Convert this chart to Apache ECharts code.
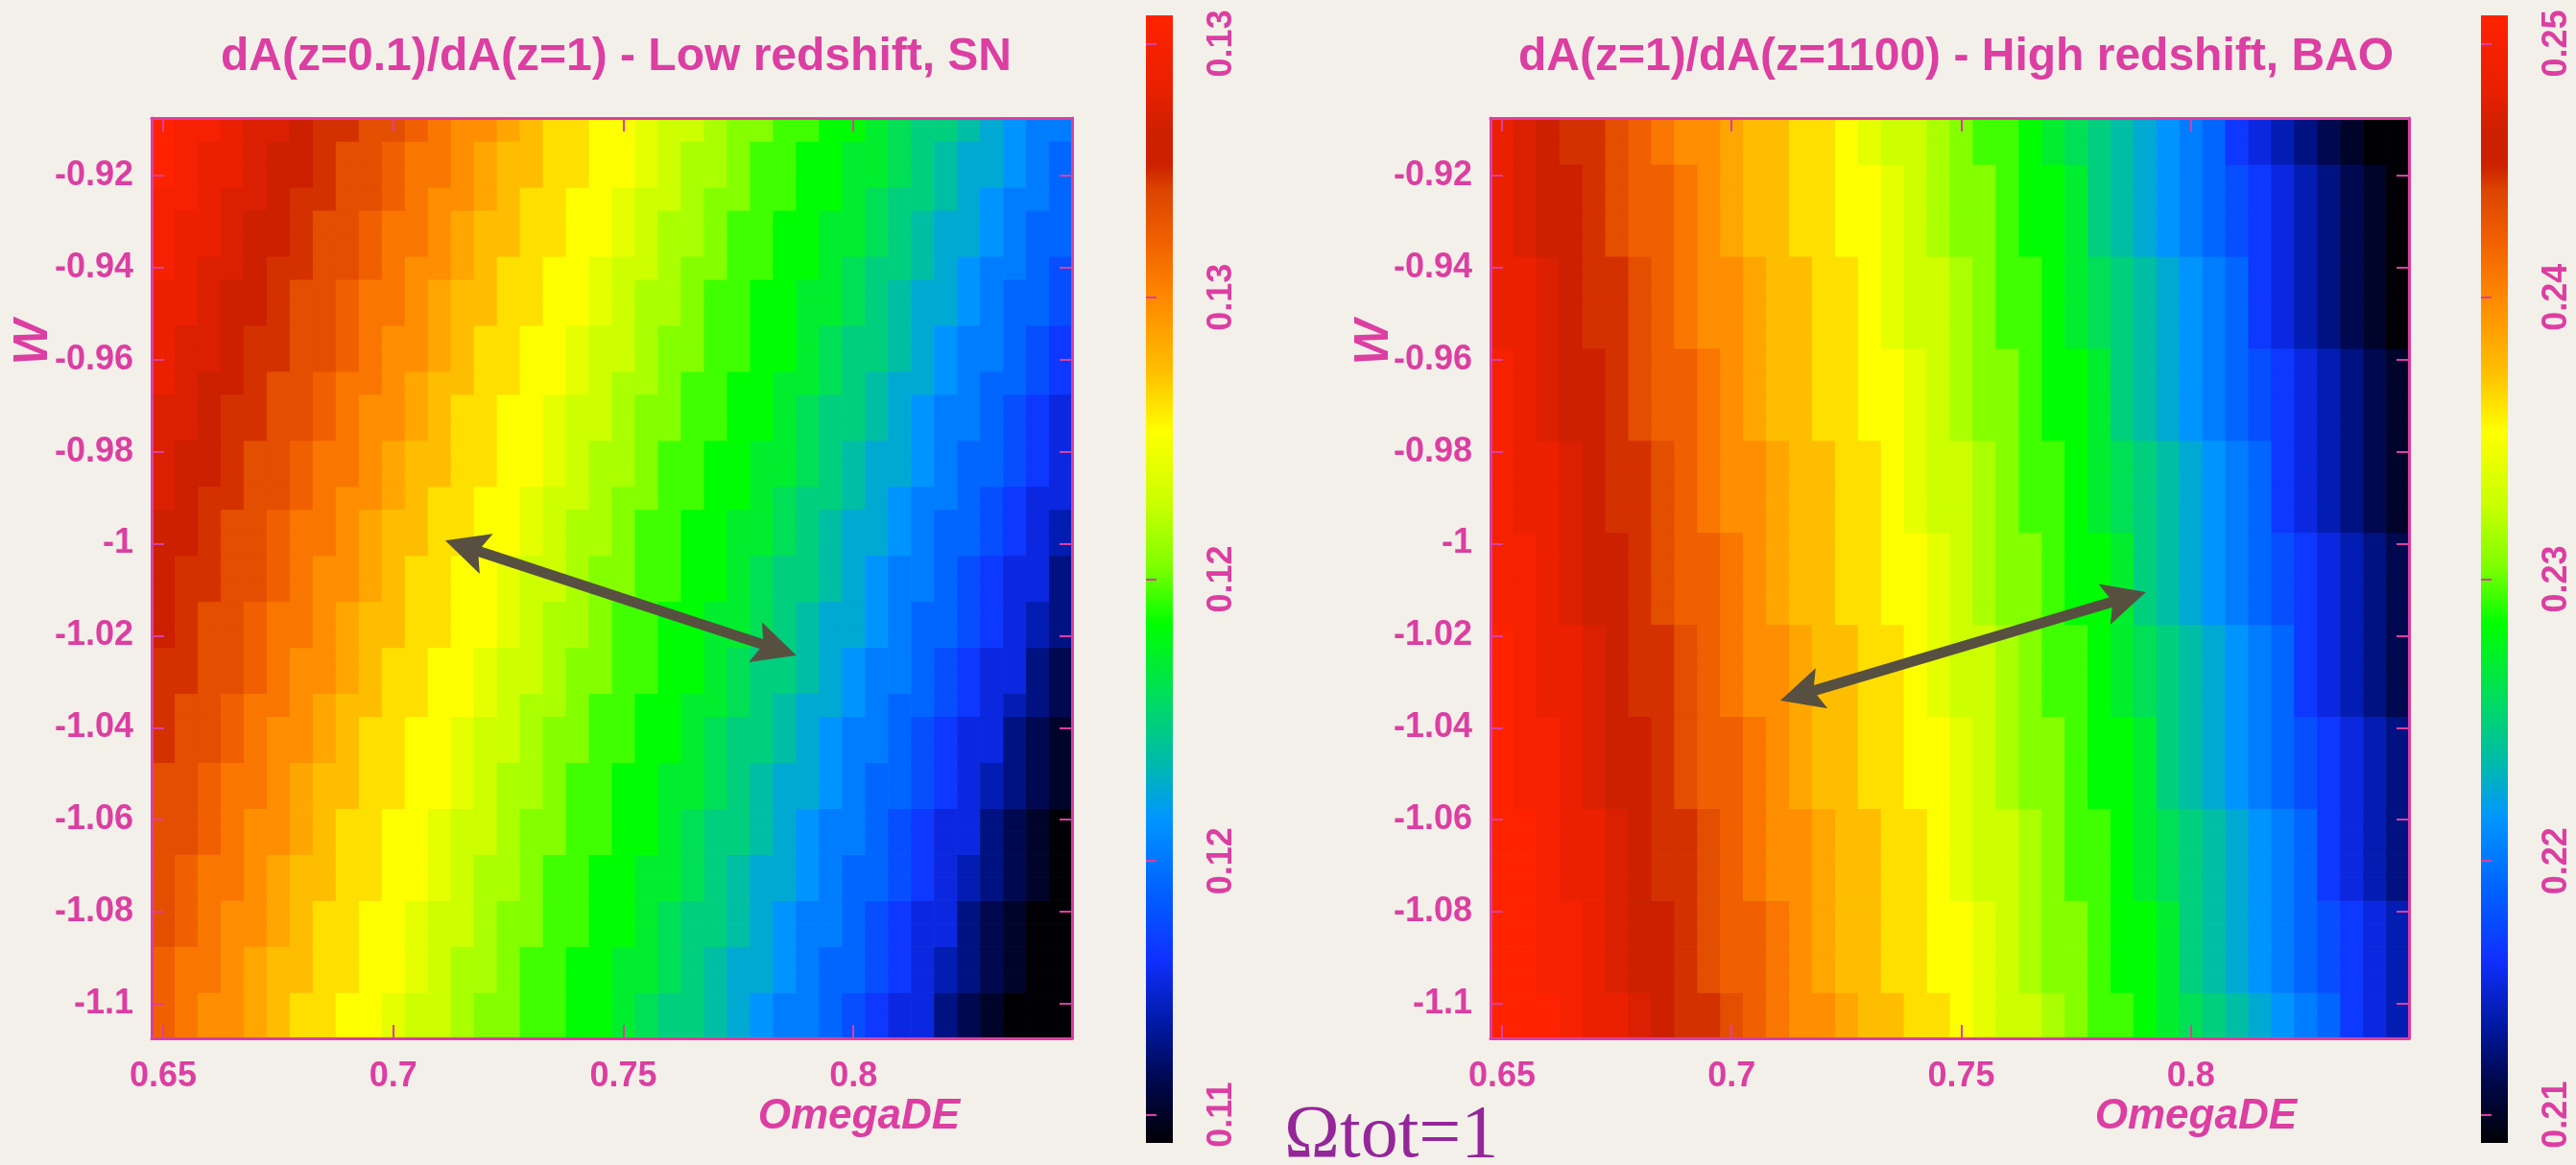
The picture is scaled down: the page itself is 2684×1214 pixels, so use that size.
<!DOCTYPE html>
<html>
<head>
<meta charset="utf-8">
<script src="https://cdn.jsdelivr.net/npm/echarts@6/dist/echarts.min.js"></script>
<style>
html,body{margin:0;padding:0;background:#f3f0e9;}
#c{width:2684px;height:1214px;}
</style>
</head>
<body>
<div id="c"></div>
<script>
// ---------------- data ----------------
const omegaDE = [0.650,0.655,0.660,0.665,0.670,0.675,0.680,0.685,0.690,0.695,
                 0.700,0.705,0.710,0.715,0.720,0.725,0.730,0.735,0.740,0.745,
                 0.750,0.755,0.760,0.765,0.770,0.775,0.780,0.785,0.790,0.795,
                 0.800,0.805,0.810,0.815,0.820,0.825,0.830,0.835,0.840,0.845];
const wValues = [-1.105,-1.100,-1.095,-1.090,-1.085,-1.080,-1.075,-1.070,-1.065,-1.060,
                 -1.055,-1.050,-1.045,-1.040,-1.035,-1.030,-1.025,-1.020,-1.015,-1.010,
                 -1.005,-1.000,-0.995,-0.990,-0.985,-0.980,-0.975,-0.970,-0.965,-0.960,
                 -0.955,-0.950,-0.945,-0.940,-0.935,-0.930,-0.925,-0.920,-0.915,-0.910];

const xTicks = [0.65, 0.7, 0.75, 0.8];
const xTickLabels = ['0.65', '0.7', '0.75', '0.8'];
const yTicks = [-1.1, -1.08, -1.06, -1.04, -1.02, -1, -0.98, -0.96, -0.94, -0.92];
const yTickLabels = ['-1.1', '-1.08', '-1.06', '-1.04', '-1.02', '-1', '-0.98', '-0.96', '-0.94', '-0.92'];

const snRange = [0.11, 0.13];
const baoRange = [0.21, 0.25];
const snBarTicks = [0.1105, 0.115, 0.12, 0.125, 0.1295];
const snBarLabels = ['0.11', '0.12', '0.12', '0.13', '0.13'];
const baoBarTicks = [0.211, 0.22, 0.23, 0.24, 0.249];
const baoBarLabels = ['0.21', '0.22', '0.23', '0.24', '0.25'];

// cell values, one string per w row (bottom row first), one character per OmegaDE column.
// character = quantised level 0..35 across the colour range of each panel.
const LEVELS = '0123456789abcdefghijklmnopqrstuvwxyz';
const snRows = [
 'srqqponnmmlkkjiihhggfeddcba9987655321000',
 'srqqponnmmlkkjiihhggfeddcba9987655321000',
 'srrqpoonnmmlkjjihhggffedcbba988765432100',
 'srrqpoonnmmlkjjihhggffedcbba988765432100',
 'tsrqqponnmmlkkjiihhggfeddcba998765532100',
 'tsrqqponnmmlkkjiihhggfeddcba998765532100',
 'tsrrqpoonnmmlkjjihhggffedcbba98876543210',
 'tsrrqpoonnmmlkjjihhggffedcbba98876543210',
 'ttsrqqponnmmlkkjiihhggfeddcba99876553210',
 'ttsrqqponnmmlkkjiihhggfeddcba99876553210',
 'ttsrrqpoonnmmlkjjihhggffedcbba9887654321',
 'ttsrrqpoonnmmlkjjihhggffedcbba9887654321',
 'uttsrqqponnmmlkkjiihhggfeddcba9987655321',
 'uttsrqqponnmmlkkjiihhggfeddcba9987655321',
 'uttsrrqpoonnmmlkjjihhggffedcbba988765432',
 'uuttsrqqponnmmlkkjiihhggfeddcba998765532',
 'uuttsrqqponnmmlkkjiihhggfeddcba998765532',
 'vuttsrrqpoonnmmlkjjihhggffedcbba98876543',
 'vuttsrrqpoonnmmlkjjihhggffedcbba98876543',
 'vuuttsrqqponnmmlkkjiihhggfeddcba99876553',
 'vuuttsrqqponnmmlkkjiihhggfeddcba99876553',
 'vvuttsrrqpoonnmmlkjjihhggffedcbba9887654',
 'vvuttsrrqpoonnmmlkjjihhggffedcbba9887654',
 'wvuuttsrqqponnmmlkkjiihhggfeddcba9987655',
 'wvvuttsrrqpoonnmmlkjjihhggffedcbba988765',
 'wvvuttsrrqpoonnmmlkjjihhggffedcbba988765',
 'wwvuuttsrqqponnmmlkkjiihhggfeddcba998765',
 'wwvuuttsrqqponnmmlkkjiihhggfeddcba998765',
 'xwvvuttsrrqpoonnmmlkjjihhggffedcbba98876',
 'xwwvuuttsrqqponnmmlkkjiihhggfeddcba99876',
 'xwwvuuttsrqqponnmmlkkjiihhggfeddcba99876',
 'xxwvvuttsrrqpoonnmmlkjjihhggffedcbba9887',
 'xxwvvuttsrrqpoonnmmlkjjihhggffedcbba9887',
 'yxwwvuuttsrqqponnmmlkkjiihhggfeddcba9987',
 'yxxwvvuttsrrqpoonnmmlkjjihhggffedcbba988',
 'yxxwvvuttsrrqpoonnmmlkjjihhggffedcbba988',
 'yyxwwvuuttsrqqponnmmlkkjiihhggfeddcba998',
 'zyxxwvvuttsrrqpoonnmmlkjjihhggffedcbba98',
 'zyxxwvvuttsrrqpoonnmmlkjjihhggffedcbba98',
 'zyyxwwvuuttsrqqponnmmlkkjiihhggfeddcba99'
];
const baoRows = [
 'zzzyxxwvuutsrqqpoonnmlkkjihhgfedcba98654',
 'zzzyxxwvuutsrqqpoonnmlkkjihhgfedcba98654',
 'zzyyxwvvutssrqpoonnmmlkjiihggfdcba987654',
 'zzyyxwvvutssrqpoonnmmlkjiihggfdcba987654',
 'zzyyxwvvutssrqpoonnmmlkjiihggfdcba987654',
 'zzyyxwvvutssrqpoonnmmlkjiihggfdcba987654',
 'zzyxxwvuutsrqqpoonnmlkkjihhgfedcba986543',
 'zzyxxwvuutsrqqpoonnmlkkjihhgfedcba986543',
 'zzyxxwvuutsrqqpoonnmlkkjihhgfedcba986543',
 'zzyxxwvuutsrqqpoonnmlkkjihhgfedcba986543',
 'zyyxwvvutssrqpoonnmmlkjiihggfdcba9876543',
 'zyyxwvvutssrqpoonnmmlkjiihggfdcba9876543',
 'zyyxwvvutssrqpoonnmmlkjiihggfdcba9876543',
 'zyyxwvvutssrqpoonnmmlkjiihggfdcba9876543',
 'zyxxwvuutsrqqpoonnmlkkjihhgfedcba9865432',
 'zyxxwvuutsrqqpoonnmlkkjihhgfedcba9865432',
 'zyxxwvuutsrqqpoonnmlkkjihhgfedcba9865432',
 'zyxxwvuutsrqqpoonnmlkkjihhgfedcba9865432',
 'yyxwvvutssrqpoonnmmlkjiihggfdcba98765432',
 'yyxwvvutssrqpoonnmmlkjiihggfdcba98765432',
 'yyxwvvutssrqpoonnmmlkjiihggfdcba98765432',
 'yyxwvvutssrqpoonnmmlkjiihggfdcba98765432',
 'yxxwvuutsrqqpoonnmlkkjihhgfedcba98654321',
 'yxxwvuutsrqqpoonnmlkkjihhgfedcba98654321',
 'yxxwvuutsrqqpoonnmlkkjihhgfedcba98654321',
 'yxxwvuutsrqqpoonnmlkkjihhgfedcba98654321',
 'yxwvvutssrqpoonnmmlkjiihggfdcba987654321',
 'yxwvvutssrqpoonnmmlkjiihggfdcba987654321',
 'yxwvvutssrqpoonnmmlkjiihggfdcba987654321',
 'yxwvvutssrqpoonnmmlkjiihggfdcba987654321',
 'xxwvuutsrqqpoonnmlkkjihhgfedcba986543210',
 'xxwvuutsrqqpoonnmlkkjihhgfedcba986543210',
 'xxwvuutsrqqpoonnmlkkjihhgfedcba986543210',
 'xxwvuutsrqqpoonnmlkkjihhgfedcba986543210',
 'xwvvutssrqpoonnmmlkjiihggfdcba9876543210',
 'xwvvutssrqpoonnmmlkjiihggfdcba9876543210',
 'xwvvutssrqpoonnmmlkjiihggfdcba9876543210',
 'xwvvutssrqpoonnmmlkjiihggfdcba9876543210',
 'xwvuutsrqqpoonnmlkkjihhgfedcba9865432100',
 'xwvuutsrqqpoonnmlkkjihhgfedcba9865432100'
];

// double-headed arrows: [OmegaDE1, w1, OmegaDE2, w2]
const snArrow = [0.7113, -0.9993, 0.7876, -1.0243];
const baoArrow = [0.7106, -1.0341, 0.7902, -1.0105];

// ---------------- style ----------------
const PINK = '#dc3ea2';
const ARROW = '#575040';
const paletteStops = [
  [0.000, '#000005'], [0.057, '#000850'], [0.103, '#0018a0'], [0.163, '#1030ff'],
  [0.222, '#0060ff'], [0.288, '#0096ff'], [0.334, '#00b8b0'], [0.387, '#00d868'],
  [0.460, '#00ff00'], [0.512, '#80ff00'], [0.565, '#c8ff00'], [0.631, '#ffff00'],
  [0.683, '#ffc000'], [0.750, '#ff8800'], [0.800, '#f06000'], [0.845, '#dc4400'],
  [0.868, '#cc2000'], [0.895, '#cc2000'], [0.934, '#e82000'], [1.000, '#ff2200']
];
function hex2rgb(h) { return [1, 3, 5].map(i => parseInt(h.substr(i, 2), 16)); }
function paletteAt(f) {
  for (let i = 0; i < paletteStops.length - 1; i++) {
    const a = paletteStops[i], b = paletteStops[i + 1];
    if (f <= b[0]) {
      const t = (f - a[0]) / (b[0] - a[0]);
      const ca = hex2rgb(a[1]), cb = hex2rgb(b[1]);
      const c = ca.map((v, k) => Math.round(v + (cb[k] - v) * t));
      return 'rgb(' + c.join(',') + ')';
    }
  }
  return paletteStops[paletteStops.length - 1][1];
}
const paletteColors = [];
for (let i = 0; i <= 200; i++) paletteColors.push(paletteAt(i / 200));
const gradientStops = paletteStops.map(s => ({ offset: s[0], color: s[1] }));

// ---------------- build cells ----------------
function buildCells(rows, range) {
  const out = [];
  for (let r = 0; r < rows.length; r++) {
    for (let c = 0; c < rows[r].length; c++) {
      const lvl = LEVELS.indexOf(rows[r][c]);
      out.push([omegaDE[c], wValues[r], range[0] + (range[1] - range[0]) * lvl / (LEVELS.length - 1)]);
    }
  }
  return out;
}
const snCells = buildCells(snRows, snRange);
const baoCells = buildCells(baoRows, baoRange);

const DX = omegaDE[1] - omegaDE[0];
const DY = wValues[1] - wValues[0];
const xMin = omegaDE[0] - DX / 2, xMax = omegaDE[omegaDE.length - 1] + DX / 2;
const yMin = wValues[0] - DY / 2, yMax = wValues[wValues.length - 1] + DY / 2;

function labelFor(ticks, labels, v) {
  for (let i = 0; i < ticks.length; i++) if (Math.abs(ticks[i] - v) < 1e-7) return labels[i];
  return '';
}

function cellRender(params, api) {
  const c = api.coord([api.value(0), api.value(1)]);
  const s = api.size([DX, DY]);
  return {
    type: 'rect',
    shape: { x: c[0] - s[0] / 2, y: c[1] - s[1] / 2, width: s[0] + 0.7, height: s[1] + 0.7 },
    style: { fill: api.visual('color') }
  };
}
function arrowRender(params, api) {
  const p1 = api.coord([api.value(0), api.value(1)]);
  const p2 = api.coord([api.value(2), api.value(3)]);
  const dx = p2[0] - p1[0], dy = p2[1] - p1[1];
  const L = Math.hypot(dx, dy);
  const ux = dx / L, uy = dy / L, nx = -uy, ny = ux;
  const HL = 45, HW = 22, NOTCH = 36, SW = 5.5;
  const J = HL + (NOTCH - HL) * (1 - SW / HW);
  const P = (base, a, n, dir) => [base[0] + dir * ux * a + nx * n, base[1] + dir * uy * a + ny * n];
  const pts = [
    p1, P(p1, HL, HW, 1), P(p1, J, SW, 1), P(p2, J, SW, -1), P(p2, HL, HW, -1),
    p2, P(p2, HL, -HW, -1), P(p2, J, -SW, -1), P(p1, J, -SW, 1), P(p1, HL, -HW, 1)
  ];
  return { type: 'polygon', shape: { points: pts }, style: { fill: ARROW } };
}
function barRender(params, api) {
  const top = api.coord([0, api.value(2)]);
  const bot = api.coord([0, api.value(1)]);
  const cs = params.coordSys;
  return {
    type: 'rect',
    shape: { x: cs.x, y: top[1], width: cs.width, height: bot[1] - top[1] },
    style: { fill: new echarts.graphic.LinearGradient(0, 1, 0, 0, gradientStops) }
  };
}

const labelFont = { color: PINK, fontSize: 36, fontWeight: 'bold', fontFamily: 'Liberation Sans' };

function frameAxis(grid, pos, min, max, ticks, labels, showLabels, isX) {
  return {
    type: 'value', gridIndex: grid, position: pos, min: min, max: max, z: 5,
    axisLine: { show: true, onZero: false, lineStyle: { color: PINK, width: 3 } },
    axisTick: { show: true, inside: true, length: isX ? 14 : 13, customValues: ticks,
                lineStyle: { color: PINK, width: 2 } },
    axisLabel: Object.assign({ show: showLabels, customValues: ticks, margin: isX ? 22 : 19,
                formatter: v => labelFor(ticks, labels, v) }, labelFont),
    splitLine: { show: false }
  };
}
function barXAxis(grid) {
  return { type: 'value', gridIndex: grid, min: 0, max: 1, show: false };
}
function barYAxis(grid, range, ticks, labels) {
  return {
    type: 'value', gridIndex: grid, position: 'right', min: range[0], max: range[1], z: 5,
    axisLine: { show: false },
    axisTick: { show: true, inside: false, length: 11, customValues: ticks,
                lineStyle: { color: PINK, width: 2 } },
    axisLabel: Object.assign({ customValues: ticks, rotate: 90, margin: 33,
                formatter: v => labelFor(ticks, labels, v) }, labelFont),
    splitLine: { show: false }
  };
}

const titleStyle = { color: PINK, fontSize: 48, fontWeight: 'bold', fontFamily: 'Liberation Sans' };
const axisNameStyle = { color: PINK, fontSize: 44, fontWeight: 'bold', fontStyle: 'italic', fontFamily: 'Liberation Sans' };

const option = {
  backgroundColor: '#f3f0e9',
  animation: false,
  title: [
    { text: 'dA(z=0.1)/dA(z=1) - Low redshift, SN', left: 642, top: 36, textAlign: 'center', padding: 0, textStyle: titleStyle },
    { text: 'dA(z=1)/dA(z=1100) - High redshift, BAO', left: 2038, top: 36, textAlign: 'center', padding: 0, textStyle: titleStyle },
    { text: 'OmegaDE', left: 1000, top: 1142, textAlign: 'right', padding: 0, textStyle: axisNameStyle },
    { text: 'OmegaDE', left: 2393, top: 1142, textAlign: 'right', padding: 0, textStyle: axisNameStyle },
    { text: 'Ωtot=1', left: 1338, top: 1146, padding: 0,
      textStyle: { color: '#94269a', fontSize: 78, fontWeight: 'normal', fontFamily: 'Liberation Serif' } }
  ],
  graphic: [
    { type: 'text', x: 35, y: 357, rotation: Math.PI / 2,
      style: { text: 'W', fill: PINK, font: 'italic bold 50px "Liberation Sans"', align: 'center', verticalAlign: 'middle' } },
    { type: 'text', x: 1432, y: 357, rotation: Math.PI / 2,
      style: { text: 'W', fill: PINK, font: 'italic bold 50px "Liberation Sans"', align: 'center', verticalAlign: 'middle' } }
  ],
  grid: [
    { left: 158, top: 123, width: 959, height: 959 },
    { left: 1553, top: 123, width: 957, height: 959 },
    { left: 1194, top: 16, width: 28, height: 1175 },
    { left: 2585, top: 16, width: 28, height: 1175 }
  ],
  xAxis: [
    frameAxis(0, 'bottom', xMin, xMax, xTicks, xTickLabels, true, true),
    frameAxis(0, 'top', xMin, xMax, xTicks, xTickLabels, false, true),
    frameAxis(1, 'bottom', xMin, xMax, xTicks, xTickLabels, true, true),
    frameAxis(1, 'top', xMin, xMax, xTicks, xTickLabels, false, true),
    barXAxis(2),
    barXAxis(3)
  ],
  yAxis: [
    frameAxis(0, 'left', yMin, yMax, yTicks, yTickLabels, true, false),
    frameAxis(0, 'right', yMin, yMax, yTicks, yTickLabels, false, false),
    frameAxis(1, 'left', yMin, yMax, yTicks, yTickLabels, true, false),
    frameAxis(1, 'right', yMin, yMax, yTicks, yTickLabels, false, false),
    barYAxis(2, snRange, snBarTicks, snBarLabels),
    barYAxis(3, baoRange, baoBarTicks, baoBarLabels)
  ],
  visualMap: [
    { show: false, type: 'continuous', seriesIndex: 0, dimension: 2, min: snRange[0], max: snRange[1], inRange: { color: paletteColors } },
    { show: false, type: 'continuous', seriesIndex: 1, dimension: 2, min: baoRange[0], max: baoRange[1], inRange: { color: paletteColors } }
  ],
  series: [
    { type: 'custom', name: 'SN', xAxisIndex: 0, yAxisIndex: 0, renderItem: cellRender, data: snCells, z: 1, silent: true },
    { type: 'custom', name: 'BAO', xAxisIndex: 2, yAxisIndex: 2, renderItem: cellRender, data: baoCells, z: 1, silent: true },
    { type: 'custom', xAxisIndex: 0, yAxisIndex: 0, renderItem: arrowRender, data: [snArrow], z: 3, silent: true },
    { type: 'custom', xAxisIndex: 2, yAxisIndex: 2, renderItem: arrowRender, data: [baoArrow], z: 3, silent: true },
    { type: 'custom', xAxisIndex: 4, yAxisIndex: 4, renderItem: barRender, data: [[0, snRange[0], snRange[1]]], z: 1, silent: true },
    { type: 'custom', xAxisIndex: 5, yAxisIndex: 5, renderItem: barRender, data: [[0, baoRange[0], baoRange[1]]], z: 1, silent: true }
  ]
};

const chart = echarts.init(document.getElementById('c'), null, { renderer: 'canvas' });
chart.setOption(option);
</script>
</body>
</html>
